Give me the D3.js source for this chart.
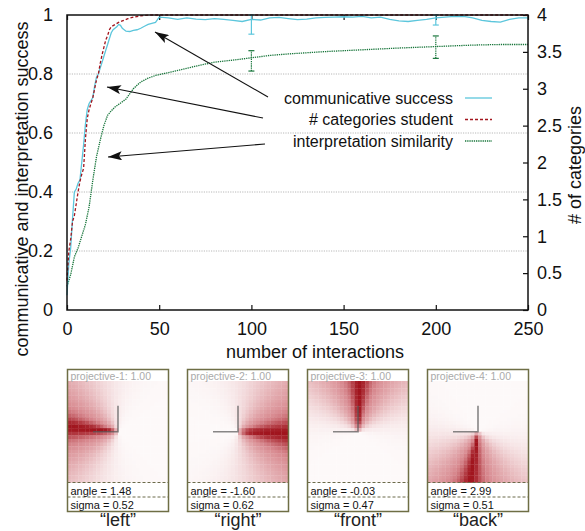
<!DOCTYPE html>
<html>
<head>
<meta charset="utf-8">
<script src="https://cdn.jsdelivr.net/npm/d3@7"></script>
<style>
  body { margin: 0; background: #fff; }
  svg { display: block; font-family: "Liberation Sans", Arial, Helvetica, sans-serif; }
</style>
</head>
<body>
<div id="chart"></div>
<script>
// --- data ---
let successX = [0,1,2,3,4,5,6,7,8,9,10,11,12,13,14,15,16,17,18,19,20,21,22,23,24,25,26,27,28,29,30,32,34,36,38,40,42,44,46,48,50,
  55,60,65,70,75,80,85,90,95,100,105,110,115,120,125,130,135,140,145,150,155,160,165,170,175,180,185,190,195,200,205,210,215,220,225,230,235,240,245,250];
let successY = [0.05,0.16,0.21,0.31,0.40,0.41,0.43,0.44,0.50,0.56,0.63,0.68,0.70,0.71,0.72,0.76,0.79,0.80,0.82,0.84,0.86,0.88,0.90,0.92,0.94,0.95,0.955,0.96,0.968,0.965,0.955,0.945,0.944,0.948,0.95,0.955,0.962,0.968,0.972,0.975,0.993,
  0.99,0.985,0.99,0.986,0.984,0.988,0.985,0.982,0.978,0.985,0.983,0.99,0.992,0.988,0.984,0.986,0.99,0.992,0.993,0.994,0.993,0.995,0.99,0.993,0.985,0.98,0.978,0.982,0.985,0.99,0.993,0.995,0.995,0.99,0.982,0.978,0.976,0.985,0.99,0.99];

let categoriesX = [0,1,2,3,4,5,6,7,8,9,10,11,12,13,14,15,16,17,18,19,20,21,22,23,24,26,28,30,33,36,40,45,250];
let categoriesY = [0.4,0.8,0.96,1.2,1.28,1.44,1.6,1.74,1.84,1.92,2.32,2.6,2.72,2.8,2.88,3.0,3.12,3.2,3.34,3.46,3.56,3.66,3.72,3.8,3.84,3.87,3.9,3.92,3.95,3.97,3.99,4.0,4.0];

let similarityX = [0,2,4,6,8,10,12,14,16,18,20,22,24,26,28,30,32,34,36,38,40,44,48,55,62,70,80,90,100,110,120,140,160,180,200,220,235,250];
let similarityY = [0.08,0.12,0.18,0.21,0.25,0.29,0.35,0.44,0.52,0.575,0.625,0.66,0.675,0.688,0.697,0.706,0.715,0.733,0.75,0.762,0.773,0.786,0.795,0.805,0.815,0.827,0.84,0.847,0.855,0.863,0.868,0.876,0.882,0.888,0.893,0.898,0.9,0.9];

let errX = [100, 200];
let successLo = [0.935, 0.966];
let successHi = [1.0, 1.0];
let similarityLo = [0.81, 0.853];
let similarityHi = [0.879, 0.929];

let xTicks = [0,50,100,150,200,250];
let leftTicks = [0,0.2,0.4,0.6,0.8,1];
let rightTicks = [0,0.5,1,1.5,2,2.5,3,3.5,4];
let gridTicks = [0.2,0.4,0.6,0.8];

let legendLabels = ["communicative success", "# categories student", "interpretation similarity"];

let panelTitles = ["projective-1: 1.00","projective-2: 1.00","projective-3: 1.00","projective-4: 1.00"];
let panelAngles = [1.48, -1.60, -0.03, 2.99];
let panelSigmas = [0.52, 0.62, 0.47, 0.51];
let panelWords = ["left","right","front","back"];

// --- setup ---
let svg = d3.select("#chart").append("svg")
  .attr("width", 585)
  .attr("height", 531);

let x = d3.scaleLinear().domain([0,250]).range([67,528]);
let yL = d3.scaleLinear().domain([0,1]).range([310,15]);
let yR = d3.scaleLinear().domain([0,4]).range([310,15]);

let cyan = "#5cc6dc", red = "#a3161e", green = "#17753a";

// grid
svg.selectAll("line.grid")
  .data(gridTicks)
  .enter()
  .append("line")
  .attr("x1", x(0)).attr("x2", x(250))
  .attr("y1", d => yL(d)).attr("y2", d => yL(d))
  .style("stroke", "#b8b8b8")
  .style("stroke-width", 1)
  .style("stroke-dasharray", "1.2,1.2");

// axes
let fmt = d => d3.format("")(d);
let axBottom = svg.append("g").attr("transform", "translate(0,310)")
  .call(d3.axisBottom(x).tickValues(xTicks).tickSize(-5).tickPadding(12).tickFormat(fmt));
let axTop = svg.append("g").attr("transform", "translate(0,15)")
  .call(d3.axisTop(x).tickValues(xTicks).tickSize(-5).tickFormat(""));
let axLeft = svg.append("g").attr("transform", "translate(67,0)")
  .call(d3.axisLeft(yL).tickValues(leftTicks).tickSize(0).tickPadding(14).tickFormat(fmt));
let axRight = svg.append("g").attr("transform", "translate(528,0)")
  .call(d3.axisRight(yR).tickValues(rightTicks).tickSize(-5).tickPadding(9).tickFormat(fmt));

[axBottom, axTop, axLeft, axRight].forEach(g => {
  g.select(".domain").remove();
  g.selectAll("text").style("font-size", "18px").style("fill", "#111")
    .style("font-family", "'Liberation Sans', Arial, sans-serif");
  g.selectAll("line").style("stroke", "#111").style("stroke-width", 1.2);
});

// lines
let lineL = d3.line().x(d => x(d[0])).y(d => yL(d[1]));
let lineR = d3.line().x(d => x(d[0])).y(d => yR(d[1]));

svg.append("path")
  .datum(d3.zip(similarityX, similarityY))
  .attr("d", lineL)
  .style("fill", "none").style("stroke", green).style("stroke-width", 1.3)
  .style("stroke-dasharray", "1.3,0.9");

svg.append("path")
  .datum(d3.zip(successX, successY))
  .attr("d", lineL)
  .style("fill", "none").style("stroke", cyan).style("stroke-width", 1.3);

svg.append("path")
  .datum(d3.zip(categoriesX, categoriesY))
  .attr("d", lineR)
  .style("fill", "none").style("stroke", red).style("stroke-width", 1.3)
  .style("stroke-dasharray", "3,2");

// error bars
function errorBars(lo, hi, color, dash) {
  let g = svg.append("g");
  let data = d3.zip(errX, lo, hi);
  g.selectAll("line.v").data(data).enter().append("line")
    .attr("x1", d => x(d[0])).attr("x2", d => x(d[0]))
    .attr("y1", d => yL(d[1])).attr("y2", d => yL(d[2]))
    .style("stroke", color).style("stroke-width", 1.2).style("stroke-dasharray", dash);
  ["lo","hi"].forEach((k, j) => {
    g.selectAll("line." + k).data(data).enter().append("line")
      .attr("class", k)
      .attr("x1", d => x(d[0]) - 3).attr("x2", d => x(d[0]) + 3)
      .attr("y1", d => yL(d[j + 1])).attr("y2", d => yL(d[j + 1]))
      .style("stroke", color).style("stroke-width", 1.2);
  });
}
errorBars(successLo, successHi, cyan, null);
errorBars(similarityLo, similarityHi, green, "1.3,0.9");

// frame
svg.append("rect")
  .attr("x", x(0)).attr("y", yL(1))
  .attr("width", x(250) - x(0)).attr("height", yL(0) - yL(1))
  .style("fill", "none").style("stroke", "#111").style("stroke-width", 1.5);

// axis titles
svg.append("text")
  .attr("x", 315).attr("y", 358)
  .attr("text-anchor", "middle")
  .style("font-size", "18px").style("fill", "#111")
  .text("number of interactions");

svg.append("text")
  .attr("transform", "translate(28,189) rotate(-90)")
  .attr("text-anchor", "middle")
  .style("font-size", "18px").style("fill", "#111")
  .text("communicative and interpretation success");

svg.append("text")
  .attr("transform", "translate(581,165) rotate(-90)")
  .attr("text-anchor", "middle")
  .style("font-size", "18px").style("fill", "#111")
  .text("# of categories");

// legend
let legendColors = [cyan, red, green];
let legendDash = [null, "3,2", "1.3,0.9"];
let legendY = d3.scalePoint().domain(legendLabels).range([98, 141]);
let legend = svg.append("g");
legend.selectAll("text").data(legendLabels).enter().append("text")
  .attr("x", 453).attr("y", d => legendY(d) + 5.5)
  .attr("text-anchor", "end")
  .style("font-size", "16px").style("fill", "#111")
  .text(d => d);
legend.selectAll("line").data(legendLabels).enter().append("line")
  .attr("x1", 465).attr("x2", 492)
  .attr("y1", d => legendY(d)).attr("y2", d => legendY(d))
  .style("stroke", (d, i) => legendColors[i]).style("stroke-width", 1.3)
  .style("stroke-dasharray", (d, i) => legendDash[i]);

// arrows
svg.append("defs").append("marker")
  .attr("id", "head")
  .attr("viewBox", "0 0 14 9")
  .attr("refX", 14).attr("refY", 4.5)
  .attr("markerWidth", 14).attr("markerHeight", 9)
  .attr("markerUnits", "userSpaceOnUse")
  .attr("orient", "auto")
  .append("path").attr("d", "M0,0 L14,4.5 L0,9 L3,4.5 z").style("fill", "#111");

let arrowFrom = [[268,97],[263,118],[265,144]];
let arrowTo = [[155,32],[107,87],[108,157]];
svg.selectAll("line.arrow").data(d3.zip(arrowFrom, arrowTo)).enter().append("line")
  .attr("class", "arrow")
  .attr("x1", d => d[0][0]).attr("y1", d => d[0][1])
  .attr("x2", d => d[1][0]).attr("y2", d => d[1][1])
  .style("stroke", "#111").style("stroke-width", 1.1)
  .attr("marker-end", "url(#head)");

// --- category panels ---
let panelX = d3.scalePoint().domain(panelWords).range([67.5, 427.5]);
let pw = 101, ptop = 369.5, hmTop = 381, hmH = 101.5, pbot = 511.5;
let nCells = 28;
let cellX = d3.scaleBand().domain(d3.range(nCells)).range([0, pw]);
let cellY = d3.scaleBand().domain(d3.range(nCells)).range([0, hmH]);
let shade = d3.scaleLinear().domain([0, 0.5, 1]).range(["#fdf9f9", "#d88a90", "#a0141d"]).interpolate(d3.interpolateRgb);

panelWords.forEach((w, p) => {
  let g = svg.append("g").attr("transform", "translate(" + panelX(w) + ",0)");
  let a = panelAngles[p], s = panelSigmas[p];
  let cx = pw / 2, cy = hmTop + hmH / 2;
  let cells = [];
  d3.range(nCells).forEach(r => d3.range(nCells).forEach(c => cells.push([r, c])));
  g.selectAll("rect.cell").data(cells).enter().append("rect")
    .attr("class", "cell")
    .attr("x", d => cellX(d[1])).attr("y", d => hmTop + cellY(d[0]))
    .attr("width", cellX.bandwidth() + 0.3).attr("height", cellY.bandwidth() + 0.3)
    .style("fill", d => {
      let px = cellX(d[1]) + cellX.bandwidth() / 2 - cx;
      let py = hmTop + cellY(d[0]) + cellY.bandwidth() / 2 - cy;
      let ang = Math.atan2(-px, -py);
      let diff = Math.abs(ang - a) % (2 * Math.PI);
      if (diff > Math.PI) diff = 2 * Math.PI - diff;
      let sn = 0.3 * s, sw = 1.4 * s;
      let t = 0.45 * Math.exp(-diff * diff / (2 * sn * sn)) + 0.55 * Math.exp(-diff * diff / (2 * sw * sw));
      return shade(t);
    });
  // crosshair
  g.append("path")
    .attr("d", "M" + (cx - 25) + "," + cy + "H" + cx + "V" + (cy - 26))
    .style("fill", "none").style("stroke", "#555").style("stroke-opacity", 0.7).style("stroke-width", 1.6);
  // separators
  [hmTop + hmH, 497].forEach(yy => {
    g.append("line").attr("x1", 0).attr("x2", pw).attr("y1", yy).attr("y2", yy)
      .style("stroke", "#6b6b4a").style("stroke-width", 1).style("stroke-dasharray", "3,2");
  });
  g.append("rect")
    .attr("x", 0).attr("y", ptop).attr("width", pw).attr("height", pbot - ptop)
    .style("fill", "none").style("stroke", "#6e6e45").style("stroke-width", 1.5);
  g.append("text").attr("x", 3).attr("y", 379.5)
    .style("font-size", "10.5px").style("fill", "#aaa").text(panelTitles[p]);
  g.append("text").attr("x", 3).attr("y", 495)
    .style("font-size", "11px").style("fill", "#111").text("angle = " + panelAngles[p].toFixed(2));
  g.append("text").attr("x", 3).attr("y", 509)
    .style("font-size", "11px").style("fill", "#111").text("sigma = " + panelSigmas[p].toFixed(2));
  g.append("text").attr("x", pw / 2).attr("y", 526)
    .attr("text-anchor", "middle")
    .style("font-size", "18px").style("fill", "#222")
    .text("\u201c" + w + "\u201d");
});
</script>
</body>
</html>
